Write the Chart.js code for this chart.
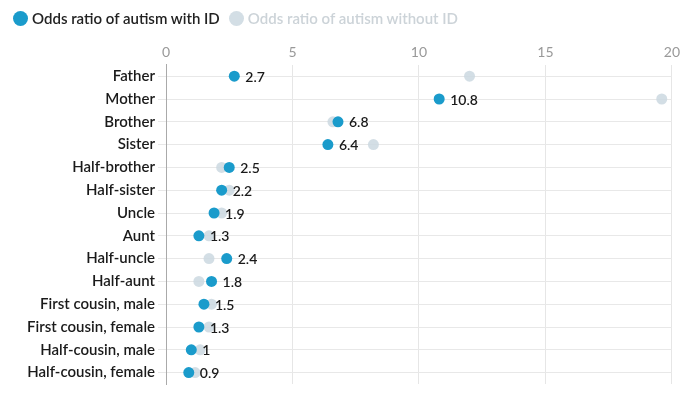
<!DOCTYPE html>
<html lang="en">
<head>
  <meta charset="UTF-8">
  <title>Odds ratio of autism by relative</title>
  <style>
    html, body {
      margin: 0;
      background: #fff;
      font-family: Lato, "Open Sans", Arial, sans-serif;
    }
    .wrap {
      position: relative;
      width: 684px;
      height: 396px;
    }
    .legend {
      position: absolute;
      left: 13px;
      top: 9px;
      display: flex;
      gap: 9px;
      font-size: 15px;
      font-weight: 600;
      white-space: nowrap;
    }
    .legend span { display: flex; align-items: center; }
    .legend i {
      display: inline-block;
      width: 15px;
      height: 15px;
      border-radius: 50%;
      margin-right: 4px;
    }
  </style>
</head>
<body>
  <div class="wrap">
    <div class="legend">
      <span style="color:#222"><i style="background:#1a9bcb"></i>Odds ratio of autism with ID</span>
      <span style="color:#ccd3d8"><i style="background:#d3dee5"></i>Odds ratio of autism without ID</span>
    </div>
    <canvas id="chart" width="684" height="396"></canvas>
  </div>
  <script src="https://cdn.jsdelivr.net/npm/chart.js"></script>
  <script>
    const relatives = ["Father", "Mother", "Brother", "Sister", "Half-brother", "Half-sister", "Uncle",
      "Aunt", "Half-uncle", "Half-aunt", "First cousin, male", "First cousin, female",
      "Half-cousin, male", "Half-cousin, female"];
    const withID = [2.7, 10.8, 6.8, 6.4, 2.5, 2.2, 1.9, 1.3, 2.4, 1.8, 1.5, 1.3, 1, 0.9];
    const withoutID = [12, 19.6, 6.6, 8.2, 2.2, 2.5, 2.2, 1.7, 1.7, 1.3, 1.8, 1.7, 1.35, 1.15];
    const xTicks = [0, 5, 10, 15, 20];

    // Werte rechts neben die blauen Punkte schreiben
    const valueLabels = {
      id: "valueLabels",
      afterDatasetsDraw(chart) {
        const ctx = chart.ctx;
        const meta = chart.getDatasetMeta(0);
        ctx.save();
        ctx.font = "600 14px Lato, sans-serif";
        ctx.fillStyle = "#1a1a1a";
        ctx.textBaseline = "middle";
        meta.data.forEach((pt, i) => {
          ctx.fillText(String(withID[i]), pt.x + 11, pt.y + 1);
        });
        ctx.restore();
      }
    };

    new Chart(document.getElementById("chart"), {
      type: "scatter",
      data: {
        datasets: [
          {
            label: "Odds ratio of autism with ID",
            data: relatives.map((r, i) => ({ x: withID[i], y: r })),
            backgroundColor: "#1a9bcb",
            borderWidth: 0,
            pointRadius: 5.5
          },
          {
            label: "Odds ratio of autism without ID",
            data: relatives.map((r, i) => ({ x: withoutID[i], y: r })),
            backgroundColor: "rgba(203,216,225,0.85)",
            borderWidth: 0,
            pointRadius: 5.5
          }
        ]
      },
      options: {
        responsive: false,
        animation: false,
        layout: { padding: { top: 40, right: 0, bottom: 0, left: 10 } },
        plugins: { legend: { display: false }, tooltip: { enabled: false } },
        scales: {
          x: {
            type: "linear",
            position: "top",
            min: 0,
            max: 20,
            afterBuildTicks(axis) { axis.ticks = xTicks.map(v => ({ value: v })); },
            ticks: { color: "#999", font: { family: "Lato", size: 14 }, padding: 4 },
            grid: { color: "#e6e6e6", drawTicks: false },
            border: { display: false }
          },
          y: {
            type: "category",
            labels: relatives,
            offset: true,
            afterFit(axis) { axis.width = 156; },
            ticks: { color: "#1a1a1a", font: { family: "Lato", size: 15, weight: "600" }, padding: 3 },
            grid: { color: "#e8e8e8", drawTicks: true, tickLength: 8, offset: false },
            border: { display: true, color: "#aaa" }
          }
        }
      },
      plugins: [valueLabels]
    });
  </script>
</body>
</html>
